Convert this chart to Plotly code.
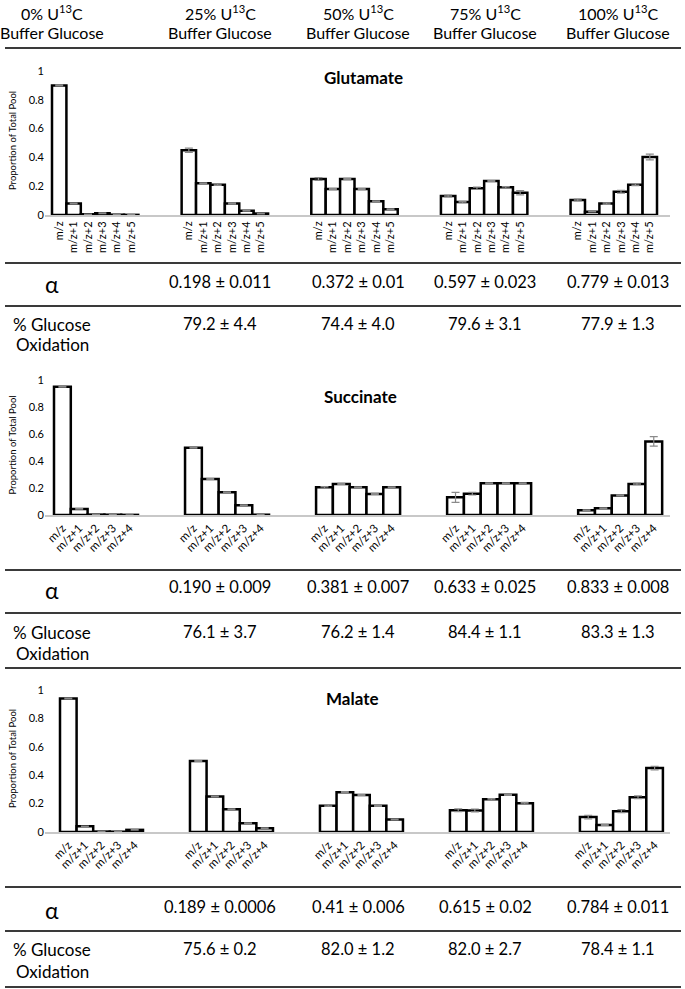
import plotly.graph_objects as go

W, H = 685, 989

# ---------------- data ----------------
conditions = ["0%", "25%", "50%", "75%", "100%"]
glu_isotopologues = ["m/z", "m/z+1", "m/z+2", "m/z+3", "m/z+4", "m/z+5"]
c4_isotopologues = ["m/z", "m/z+1", "m/z+2", "m/z+3", "m/z+4"]

glutamate_mean = [
    [0.90, 0.08, 0.005, 0.012, 0.002, 0.001],
    [0.45, 0.22, 0.21, 0.08, 0.03, 0.01],
    [0.25, 0.18, 0.25, 0.18, 0.095, 0.04],
    [0.132, 0.09, 0.185, 0.236, 0.192, 0.155],
    [0.104, 0.023, 0.079, 0.162, 0.21, 0.403],
]
glutamate_err = [
    [0.003, 0.003, 0.002, 0.003, 0.001, 0.001],
    [0.015, 0.004, 0.005, 0.004, 0.003, 0.002],
    [0.01, 0.004, 0.004, 0.004, 0.003, 0.002],
    [0.006, 0.005, 0.008, 0.003, 0.006, 0.015],
    [0.006, 0.002, 0.005, 0.01, 0.006, 0.02],
]
succinate_mean = [
    [0.95, 0.045, 0.003, 0.002, 0.001],
    [0.499, 0.267, 0.168, 0.072, 0.002],
    [0.205, 0.23, 0.205, 0.156, 0.205],
    [0.131, 0.158, 0.235, 0.235, 0.235],
    [0.035, 0.05, 0.145, 0.23, 0.545],
]
succinate_err = [
    [0.003, 0.002, 0.001, 0.001, 0.001],
    [0.003, 0.003, 0.003, 0.003, 0.001],
    [0.006, 0.004, 0.003, 0.004, 0.003],
    [0.037, 0.01, 0.004, 0.004, 0.004],
    [0.003, 0.003, 0.004, 0.006, 0.035],
]
malate_mean = [
    [0.94, 0.04, 0.003, 0.002, 0.015],
    [0.50, 0.25, 0.16, 0.062, 0.027],
    [0.185, 0.28, 0.26, 0.185, 0.088],
    [0.153, 0.152, 0.23, 0.262, 0.203],
    [0.105, 0.05, 0.147, 0.245, 0.45],
]
malate_err = [
    [0.003, 0.002, 0.001, 0.001, 0.002],
    [0.003, 0.003, 0.003, 0.003, 0.002],
    [0.005, 0.004, 0.003, 0.004, 0.003],
    [0.01, 0.01, 0.005, 0.004, 0.005],
    [0.012, 0.003, 0.01, 0.01, 0.012],
]

glutamate_alpha = ["0.198 ± 0.011", "0.372 ± 0.01", "0.597 ± 0.023", "0.779 ± 0.013"]
glutamate_oxid = ["79.2 ± 4.4", "74.4 ± 4.0", "79.6 ± 3.1", "77.9 ± 1.3"]
succinate_alpha = ["0.190 ± 0.009", "0.381 ± 0.007", "0.633 ± 0.025", "0.833 ± 0.008"]
succinate_oxid = ["76.1 ± 3.7", "76.2 ± 1.4", "84.4 ± 1.1", "83.3 ± 1.3"]
malate_alpha = ["0.189 ± 0.0006", "0.41 ± 0.006", "0.615 ± 0.02", "0.784 ± 0.011"]
malate_oxid = ["75.6 ± 0.2", "82.0 ± 1.2", "82.0 ± 2.7", "78.4 ± 1.1"]

y_ticks = [0, 0.2, 0.4, 0.6, 0.8, 1]
y_ticktext = ["0", "0.2", "0.4", "0.6", "0.8", "1"]

# ---------------- layout helpers ----------------
FONT = "Lato"
col_x = [52, 220, 358, 485, 618]


def px(xp):
    return xp / W


def py(yp):
    return 1 - yp / H


fig = go.Figure()

panels = [
    # name, means, errs, labels, step, first-bar-left px, unit px, y0 px, y1 px, tickangle, title x, title y
    ("Glutamate", glutamate_mean, glutamate_err, glu_isotopologues, 9.0, 52, 14.405, 215, 71, -90, 363, 77),
    ("Succinate", succinate_mean, succinate_err, c4_isotopologues, 7.8, 54, 16.8, 515, 380, -45, 360, 396),
    ("Malate", malate_mean, malate_err, c4_isotopologues, 7.83, 60, 16.6, 832, 690, -45, 352, 698),
]

layout_axes = {}
annotations = []
for k, (name, means, errs, labels, step, L, u, y0p, y1p, angle, tx, ty) in enumerate(panels):
    xs, ys, es, tv, tt = [], [], [], [], []
    for g in range(len(conditions)):
        for i, lab in enumerate(labels):
            pos = g * step + i
            xs.append(pos)
            ys.append(means[g][i])
            es.append(errs[g][i])
            tv.append(pos)
            tt.append(lab)
    sfx = "" if k == 0 else str(k + 1)
    fig.add_trace(go.Bar(
        x=xs, y=ys, width=1.0,
        marker=dict(color="white", line=dict(color="black", width=2.5)),
        error_y=dict(type="data", array=es, color="#8a8a8a", thickness=1.2, width=4),
        xaxis="x" + sfx, yaxis="y" + sfx, showlegend=False, hoverinfo="skip",
    ))
    dL, dR = 45, 670
    rng = [-0.5 - (L - dL) / u, -0.5 + (dR - L) / u]
    layout_axes["xaxis" + sfx] = dict(
        domain=[px(dL), px(dR)], range=rng, anchor="y" + sfx,
        tickmode="array", tickvals=tv, ticktext=tt, tickangle=angle,
        tickfont=dict(family=FONT, size=11 if angle == -90 else 11.5, color="black"),
        showline=True, linecolor="#c8c8c8", linewidth=2, ticks="",
        showgrid=False, zeroline=False, automargin=False, fixedrange=True,
    )
    layout_axes["yaxis" + sfx] = dict(
        domain=[py(y0p), py(y1p)], range=[0, 1], anchor="x" + sfx,
        tickmode="array", tickvals=y_ticks, ticktext=y_ticktext,
        tickfont=dict(family=FONT, size=11, color="black"),
        showline=False, ticks="", showgrid=False, zeroline=False,
        automargin=False, fixedrange=True,
    )
    annotations.append(dict(
        text="<b>%s</b>" % name, x=px(tx), y=py(ty), xref="paper", yref="paper",
        showarrow=False, font=dict(family=FONT, size=17, color="black"),
        xanchor="center", yanchor="middle"))
    annotations.append(dict(
        text="Proportion of Total Pool", x=px(12), y=py((y0p + y1p) / 2 - 2),
        xref="paper", yref="paper", showarrow=False, textangle=-90,
        font=dict(family=FONT, size=9.5, color="black"),
        xanchor="center", yanchor="middle"))

# header
for c, xc in zip(conditions, col_x):
    annotations.append(dict(text="%s U<sup>13</sup>C" % c, x=px(xc), y=py(12),
                            xref="paper", yref="paper", showarrow=False,
                            font=dict(family=FONT, size=16, color="black"),
                            xanchor="center", yanchor="middle"))
    annotations.append(dict(text="Buffer Glucose", x=px(xc), y=py(32),
                            xref="paper", yref="paper", showarrow=False,
                            font=dict(family=FONT, size=16, color="black"),
                            xanchor="center", yanchor="middle"))

# table rows
rows = [
    (glutamate_alpha, glutamate_oxid, 284, 282, 324, 345),
    (succinate_alpha, succinate_oxid, 590, 587, 632, 653),
    (malate_alpha, malate_oxid, 910, 907, 949, 971),
]
for alphas, oxids, ya, yv, yo1, yo2 in rows:
    annotations.append(dict(text="α", x=px(col_x[0]), y=py(ya), xref="paper", yref="paper",
                            showarrow=False, font=dict(family=FONT, size=23, color="black"),
                            xanchor="center", yanchor="middle"))
    for v, xc in zip(alphas, col_x[1:]):
        annotations.append(dict(text=v, x=px(xc), y=py(yv), xref="paper", yref="paper",
                                showarrow=False, font=dict(family=FONT, size=16.5, color="black"),
                                xanchor="center", yanchor="middle"))
    annotations.append(dict(text="% Glucose", x=px(col_x[0]), y=py(yo1), xref="paper", yref="paper",
                            showarrow=False, font=dict(family=FONT, size=17, color="black"),
                            xanchor="center", yanchor="middle"))
    annotations.append(dict(text="Oxidation", x=px(col_x[0]), y=py(yo2), xref="paper", yref="paper",
                            showarrow=False, font=dict(family=FONT, size=17, color="black"),
                            xanchor="center", yanchor="middle"))
    for v, xc in zip(oxids, col_x[1:]):
        annotations.append(dict(text=v, x=px(xc), y=py(yo1), xref="paper", yref="paper",
                                showarrow=False, font=dict(family=FONT, size=16.5, color="black"),
                                xanchor="center", yanchor="middle"))

# horizontal rules
shapes = []
for yl in [48, 263, 306, 570, 613, 668, 887, 931, 987]:
    shapes.append(dict(type="line", xref="paper", yref="paper",
                       x0=px(5), x1=px(681), y0=py(yl), y1=py(yl),
                       line=dict(color="#3a3a3a", width=2)))

fig.update_layout(
    width=W, height=H, margin=dict(l=0, r=0, t=0, b=0),
    template="none", paper_bgcolor="white", plot_bgcolor="rgba(0,0,0,0)",
    showlegend=False, annotations=annotations, shapes=shapes,
    font=dict(family=FONT, color="black"),
    **layout_axes,
)

fig.write_html("out.html", config={"displayModeBar": False},
               post_script="document.body.style.margin='0px';")
